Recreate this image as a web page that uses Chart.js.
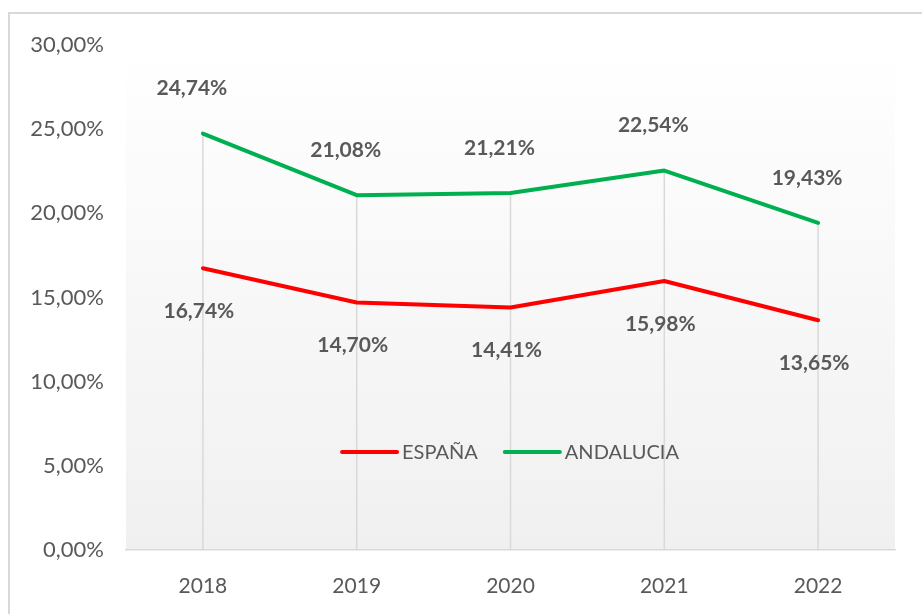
<!DOCTYPE html>
<html>
<head>
<meta charset="utf-8">
<script src="https://cdn.jsdelivr.net/npm/chart.js@4/dist/chart.umd.min.js"></script>
<style>
  html, body { margin: 0; padding: 0; background: #fff; overflow: hidden; }
  #wrap { position: relative; width: 922px; height: 614px; }
  #frame { position: absolute; left: 8px; top: 12px; width: 1000px; height: 700px; border: 2px solid #d9d9d9; }
  canvas { position: absolute; left: 0; top: 0; }
</style>
</head>
<body>
<div id="wrap">
  <div id="frame"></div>
  <canvas id="chart" width="922" height="614"></canvas>
</div>
<script>
const years = ['2018', '2019', '2020', '2021', '2022'];
const espana = [16.74, 14.70, 14.41, 15.98, 13.65];
const andalucia = [24.74, 21.08, 21.21, 22.54, 19.43];
const yTicks = [0, 5, 10, 15, 20, 25, 30];

const FONT = 'Lato';
const GREY = '#595959';
const fmt = (v) => v.toFixed(2).replace('.', ',') + '%';

// plot area shading (Excel gradient fill)
const plotBg = {
  id: 'plotBg',
  beforeDraw(chart) {
    const { ctx, chartArea: a } = chart;
    const g = ctx.createLinearGradient(0, a.top, 0, a.bottom);
    g.addColorStop(0, '#ffffff');
    g.addColorStop(1, '#f0f0f0');
    ctx.save();
    ctx.fillStyle = g;
    ctx.fillRect(a.left, a.top, a.right - a.left, a.bottom - a.top);
    ctx.restore();
  }
};

// drop lines from highest point down to the axis
const dropLines = {
  id: 'dropLines',
  beforeDatasetsDraw(chart) {
    const { ctx, scales: { x, y } } = chart;
    ctx.save();
    ctx.strokeStyle = '#d9d9d9';
    ctx.lineWidth = 1.5;
    years.forEach((yr, i) => {
      const px = x.getPixelForValue(i);
      const top = y.getPixelForValue(Math.max(espana[i], andalucia[i]));
      ctx.beginPath();
      ctx.moveTo(px, top);
      ctx.lineTo(px, y.getPixelForValue(0));
      ctx.stroke();
    });
    ctx.restore();
  }
};

// value labels + legend drawn inside the plot
const labelsAndLegend = {
  id: 'labelsAndLegend',
  afterDatasetsDraw(chart) {
    const { ctx, scales: { x, y } } = chart;
    ctx.save();
    ctx.font = `bold 21px ${FONT}`;
    ctx.fillStyle = GREY;
    ctx.textAlign = 'center';
    ctx.textBaseline = 'middle';
    andalucia.forEach((v, i) => {
      ctx.fillText(fmt(v), x.getPixelForValue(i) - 11, y.getPixelForValue(v) - 45);
    });
    espana.forEach((v, i) => {
      ctx.fillText(fmt(v), x.getPixelForValue(i) - 4, y.getPixelForValue(v) + 43);
    });

    // legend
    const ly = 452;
    const cx = (chart.chartArea.left + chart.chartArea.right) / 2;
    ctx.font = `20px ${FONT}`;
    ctx.textAlign = 'left';
    const items = chart.data.datasets.map((d) => ({ text: d.label, color: d.borderColor, w: ctx.measureText(d.label).width }));
    const lineW = 55, gap1 = 5, gap2 = 27;
    const total = items.reduce((s, it) => s + lineW + gap1 + it.w, 0) + gap2 * (items.length - 1);
    let lx = cx - total / 2;
    ctx.lineCap = 'round';
    ctx.lineWidth = 4;
    items.forEach((it) => {
      ctx.strokeStyle = it.color;
      ctx.beginPath();
      ctx.moveTo(lx, ly);
      ctx.lineTo(lx + lineW, ly);
      ctx.stroke();
      ctx.fillStyle = GREY;
      ctx.fillText(it.text, lx + lineW + gap1, ly + 1);
      lx += lineW + gap1 + it.w + gap2;
    });
    ctx.restore();
  }
};

new Chart(document.getElementById('chart'), {
  type: 'line',
  data: {
    labels: years,
    datasets: [
      { label: 'ESPAÑA', data: espana, borderColor: '#ff0000', backgroundColor: '#ff0000' },
      { label: 'ANDALUCIA', data: andalucia, borderColor: '#00b050', backgroundColor: '#00b050' }
    ]
  },
  options: {
    responsive: false,
    animation: false,
    layout: { padding: { left: 0, right: 27, top: 45, bottom: 0 } },
    elements: {
      line: { borderWidth: 4, tension: 0, borderCapStyle: 'round', borderJoinStyle: 'round' },
      point: { radius: 0, hoverRadius: 0 }
    },
    plugins: {
      legend: { display: false },
      tooltip: { enabled: false }
    },
    scales: {
      x: {
        offset: true,
        grid: { display: false },
        border: { display: true, color: '#d9d9d9', width: 1.5 },
        ticks: { color: GREY, padding: 16, font: { family: FONT, size: 21 } },
        afterFit: (s) => { s.height = 64; }
      },
      y: {
        min: 0,
        max: 30,
        afterBuildTicks: (s) => { s.ticks = yTicks.map((v) => ({ value: v })); },
        grid: { display: false },
        border: { display: false },
        ticks: { color: GREY, padding: 14, font: { family: FONT, size: 22 }, callback: (v) => fmt(v) },
        afterFit: (s) => { s.width = 126; }
      }
    }
  },
  plugins: [plotBg, dropLines, labelsAndLegend]
});
</script>
</body>
</html>
